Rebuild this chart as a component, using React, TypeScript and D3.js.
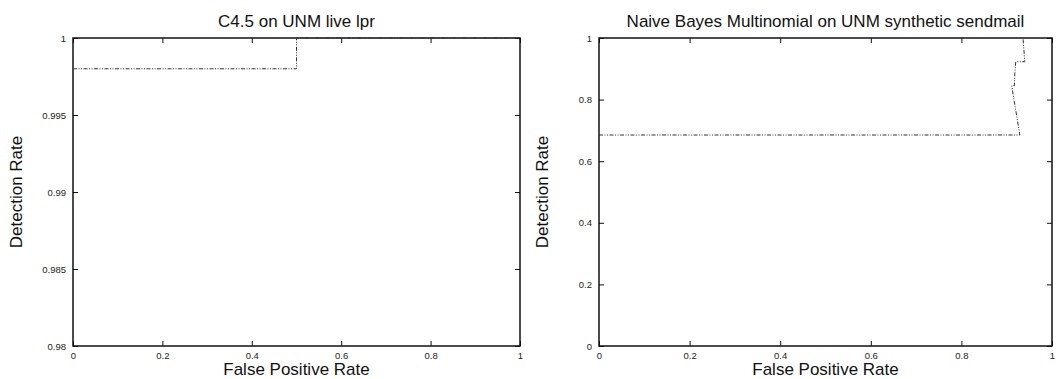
import * as d3 from "d3";
import React from "react";

// ROC points
const c45Fpr = [0, 0.5, 0.5, 1];
const c45Tpr = [0.998, 0.998, 1, 1];

const nbFpr = [0, 0.929, 0.911, 0.917, 0.918, 0.92, 0.94, 0.936];
const nbTpr = [0.685, 0.685, 0.845, 0.845, 0.885, 0.923, 0.923, 1];

const c45YTicks = [0.98, 0.985, 0.99, 0.995, 1];
const nbYTicks = [0, 0.2, 0.4, 0.6, 0.8, 1];
const xTicks = [0, 0.2, 0.4, 0.6, 0.8, 1];

const FONT = "'Liberation Sans', Arial, Helvetica, sans-serif";

function drawPanel(
  svg: any,
  {
    title,
    fpr,
    tpr,
    yDomain,
    yTicks,
    left,
    right,
    top = 38,
    bottom = 346,
    yFormat,
  }: any,
) {
  const x = d3.scaleLinear().domain([0, 1]).range([left, right]);
  const y = d3.scaleLinear().domain(yDomain).range([bottom, top]);
  const tick = 5;
  const g = svg.append("g");

  // ticks inward on all four sides (gnuplot look)
  const ya = d3.axisLeft(y).tickValues(yTicks).tickSize(-tick).tickPadding(7).tickFormat(yFormat);
  g.append("g")
    .attr("transform", `translate(${left},0)`)
    .call(ya)
    .call((s: any) => s.select(".domain").remove());
  g.append("g")
    .attr("transform", `translate(${right},0)`)
    .call(d3.axisRight(y).tickValues(yTicks).tickSize(-tick).tickFormat(() => ""))
    .call((s: any) => s.select(".domain").remove());
  g.append("g")
    .attr("transform", `translate(0,${bottom})`)
    .call(d3.axisBottom(x).tickValues(xTicks).tickSize(-tick).tickPadding(6).tickFormat(d3.format("")))
    .call((s: any) => s.select(".domain").remove());
  g.append("g")
    .attr("transform", `translate(0,${top})`)
    .call(d3.axisTop(x).tickValues(xTicks).tickSize(-tick).tickFormat(() => ""))
    .call((s: any) => s.select(".domain").remove());

  g.selectAll(".tick line").attr("stroke", "#111").attr("stroke-width", 1);
  g.selectAll(".tick text")
    .attr("fill", "#222")
    .attr("font-family", FONT)
    .attr("font-size", 9.5);

  g.append("rect")
    .attr("x", left)
    .attr("y", top)
    .attr("width", right - left)
    .attr("height", bottom - top)
    .attr("fill", "none")
    .attr("stroke", "#111")
    .attr("stroke-width", 1.5);

  const line = d3
    .line<number>()
    .x((i) => x(fpr[i]))
    .y((i) => y(tpr[i]));

  g.append("path")
    .attr("d", line(d3.range(fpr.length)))
    .attr("fill", "none")
    .attr("stroke", "#333")
    .attr("stroke-width", 1)
    .attr("stroke-dasharray", "4,1.5,1,1.5,1,1.5");

  g.append("text")
    .attr("x", (left + right) / 2)
    .attr("y", 27)
    .attr("text-anchor", "middle")
    .attr("font-family", FONT)
    .attr("font-size", 17)
    .attr("fill", "#111")
    .text(title);

  g.append("text")
    .attr("x", (left + right) / 2)
    .attr("y", 375)
    .attr("text-anchor", "middle")
    .attr("font-family", FONT)
    .attr("font-size", 17)
    .attr("fill", "#111")
    .text("False Positive Rate");

  g.append("text")
    .attr("transform", `translate(${left - 51},${(top + bottom) / 2}) rotate(-90)`)
    .attr("text-anchor", "middle")
    .attr("font-family", FONT)
    .attr("font-size", 17)
    .attr("fill", "#111")
    .text("Detection Rate");
}

export default function App() {
  const svgRef = React.useRef<SVGSVGElement>(null);

  React.useEffect(() => {
    const svg = d3.select(svgRef.current);
    svg.selectAll("*").remove();

    drawPanel(svg, {
      title: "C4.5 on UNM live lpr",
      fpr: c45Fpr,
      tpr: c45Tpr,
      yDomain: [0.98, 1],
      yTicks: c45YTicks,
      left: 73,
      right: 520,
      yFormat: d3.format(""),
    });

    drawPanel(svg, {
      title: "Naive Bayes Multinomial on UNM synthetic sendmail",
      fpr: nbFpr,
      tpr: nbTpr,
      yDomain: [0, 1],
      yTicks: nbYTicks,
      left: 599,
      right: 1052,
      yFormat: d3.format(""),
    });
  }, []);

  return (
    <svg
      ref={svgRef}
      width={1059}
      height={379}
      style={{ position: "absolute", left: 0, top: 0, background: "#fff" }}
    />
  );
}
